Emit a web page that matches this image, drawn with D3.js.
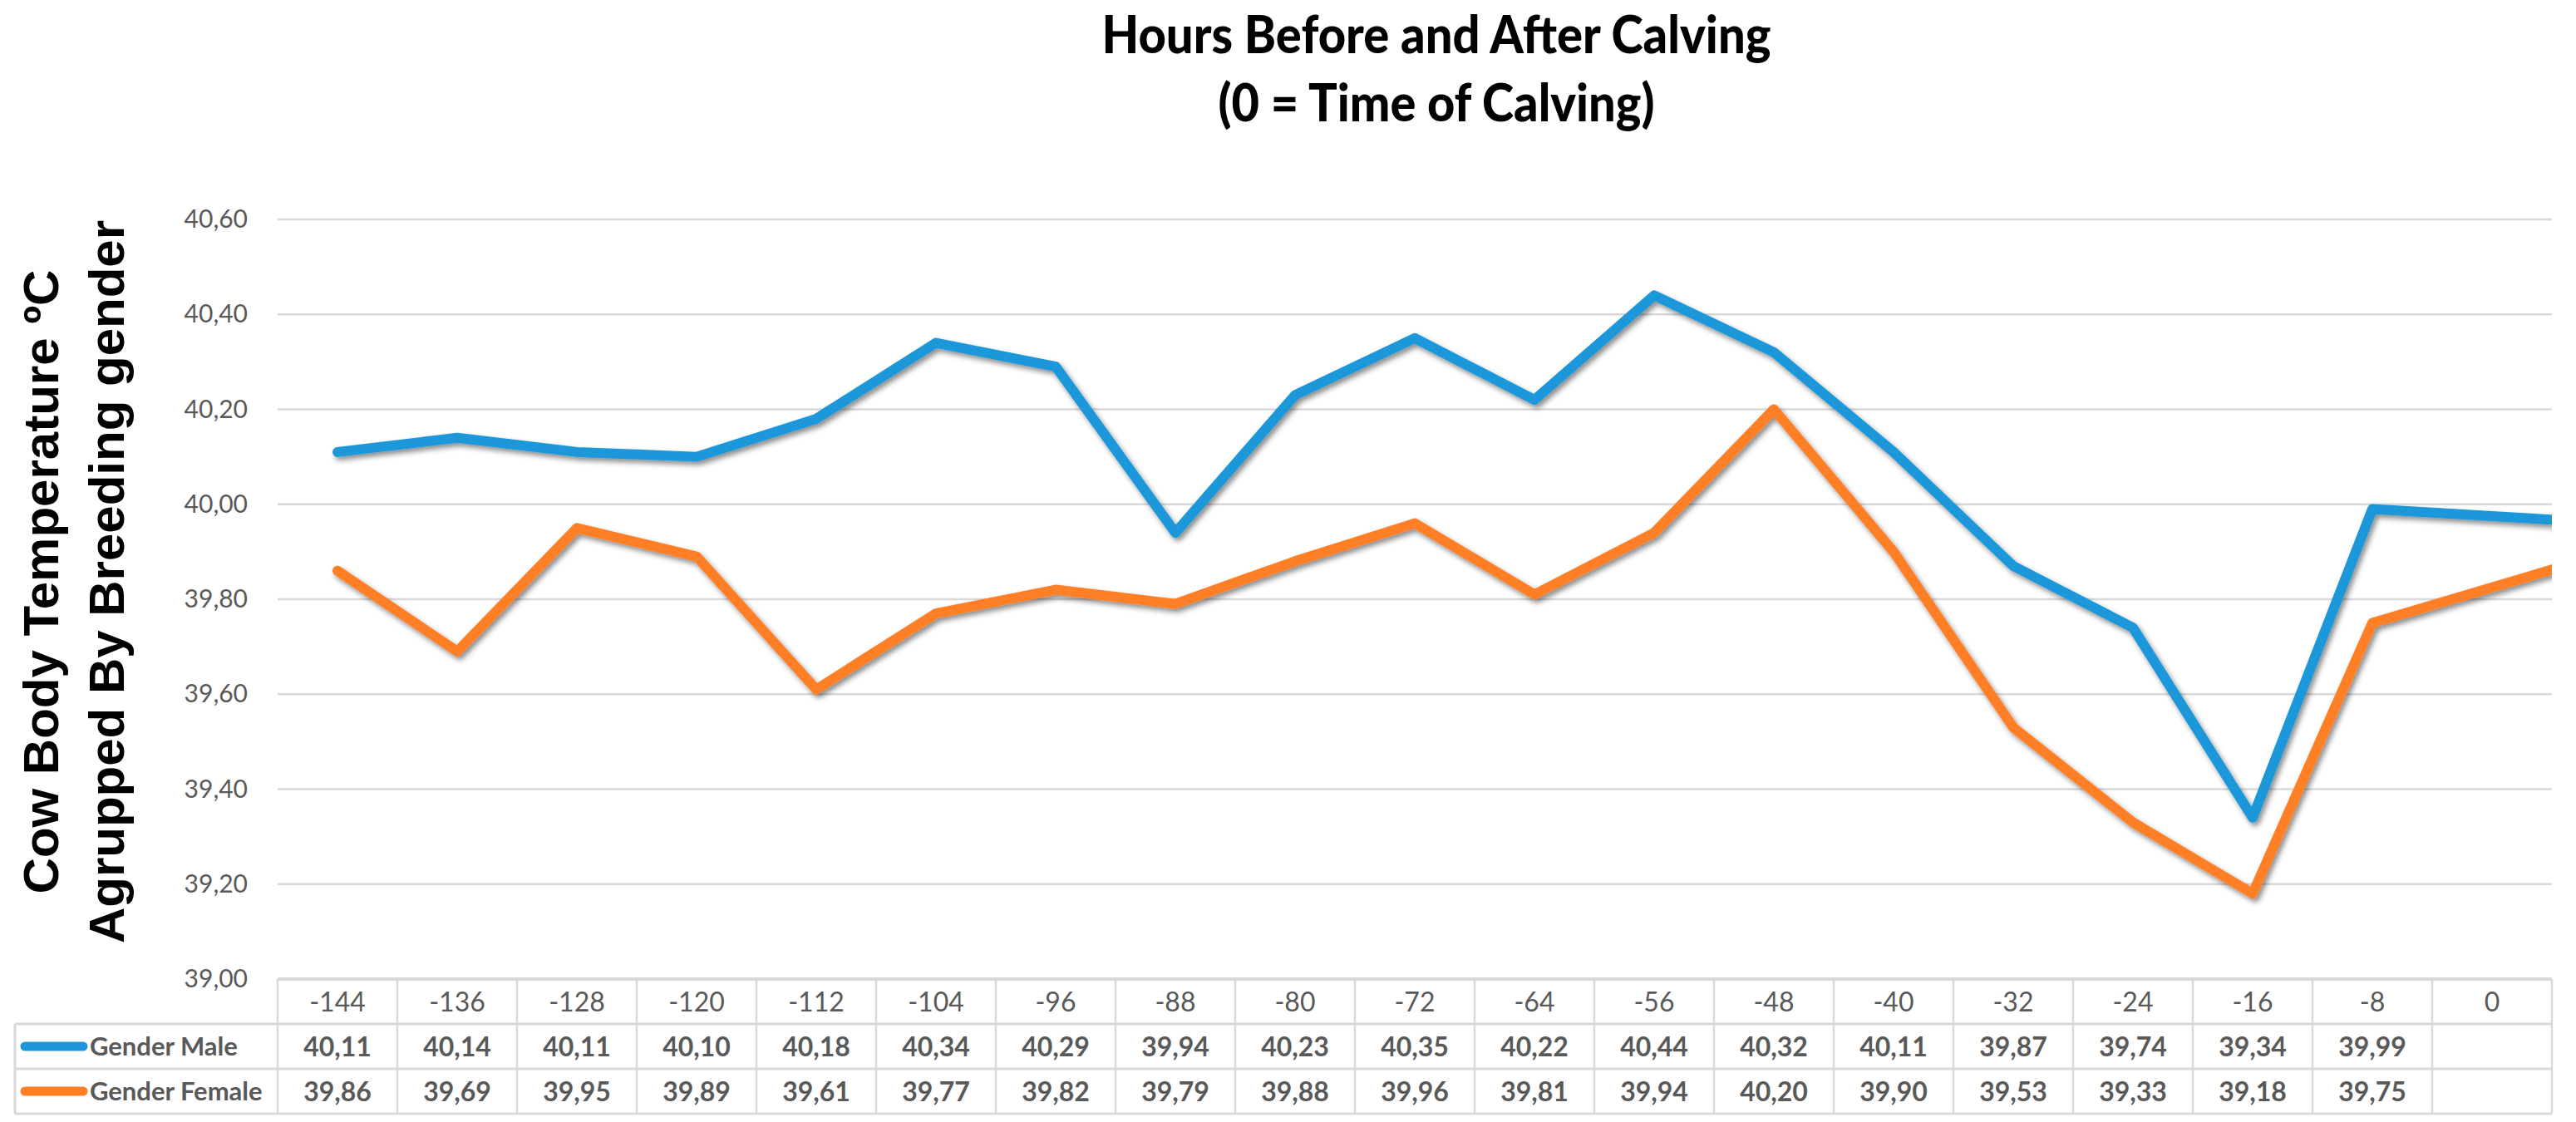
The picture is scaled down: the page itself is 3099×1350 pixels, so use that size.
<!DOCTYPE html>
<html>
<head>
<meta charset="utf-8">
<script src="https://cdn.jsdelivr.net/npm/d3@7/dist/d3.min.js"></script>
<style>
  body { margin: 0; background: #fff; }
</style>
</head>
<body>
<svg id="chart"></svg>
<script>
// hours relative to calving, one column each in the data table
var hours = ["-144", "-136", "-128", "-120", "-112", "-104", "-96", "-88", "-80", "-72",
             "-64", "-56", "-48", "-40", "-32", "-24", "-16", "-8", "0"];

var maleTemp = [40.11, 40.14, 40.11, 40.10, 40.18, 40.34, 40.29, 39.94, 40.23, 40.35,
                40.22, 40.44, 40.32, 40.11, 39.87, 39.74, 39.34, 39.99, null];
var femaleTemp = [39.86, 39.69, 39.95, 39.89, 39.61, 39.77, 39.82, 39.79, 39.88, 39.96,
                  39.81, 39.94, 40.20, 39.90, 39.53, 39.33, 39.18, 39.75, null];

// the lines run on past the last column, to a point that is off the plot
var maleNext = 39.96;
var femaleNext = 39.90;

var yTicks = [39.00, 39.20, 39.40, 39.60, 39.80, 40.00, 40.20, 40.40, 40.60];

var seriesNames = ["Gender Male", "Gender Female"];
var seriesColors = ["#1d97d9", "#ff7f27"];

var w = 3099;
var h = 1350;
// plot box (note: "top" is taken by window.top, so prefix them)
var pLeft = 334, pRight = 3070, pTop = 264, pBottom = 1178;
var rowH = 54;
var tableLeft = 18;
var grey = "#595959";
var txtFont = "Lato, 'Open Sans', sans-serif";

var svg = d3.select("#chart")
  .attr("width", w)
  .attr("height", h);

var x = d3.scaleBand().domain(hours).range([pLeft, pRight]);
var xi = d3.scaleLinear().domain([0, hours.length]).range([pLeft, pRight]);
var y = d3.scaleLinear().domain([39.0, 40.6]).range([pBottom, pTop]);

var defs = svg.append("defs");
var shadow = defs.append("filter")
  .attr("id", "shadow")
  .attr("x", "-5%").attr("y", "-20%")
  .attr("width", "110%").attr("height", "140%");
shadow.append("feDropShadow")
  .attr("dx", 3).attr("dy", 4)
  .attr("stdDeviation", 3)
  .attr("flood-color", "#000")
  .attr("flood-opacity", 0.45);

defs.append("clipPath").attr("id", "plotClip")
  .append("rect")
  .attr("x", pLeft).attr("y", pTop - 40)
  .attr("width", pRight - pLeft).attr("height", pBottom - pTop + 60);

// titles
svg.append("text")
  .text("Hours Before and After Calving")
  .attr("x", 1728).attr("y", 64)
  .attr("text-anchor", "middle")
  .style("font-family", txtFont)
  .attr("font-size", 63)
  .attr("font-weight", 900)
  .attr("textLength", 805)
  .attr("lengthAdjust", "spacingAndGlyphs")
  .attr("fill", "#000");

svg.append("text")
  .text("(0 = Time of Calving)")
  .attr("x", 1728).attr("y", 146)
  .attr("text-anchor", "middle")
  .style("font-family", txtFont)
  .attr("font-size", 63)
  .attr("font-weight", 900)
  .attr("textLength", 525)
  .attr("lengthAdjust", "spacingAndGlyphs")
  .attr("fill", "#000");

var yTitle = ["Cow Body Temperature ºC", "Agrupped By Breeding gender"];
svg.append("g")
  .selectAll("text")
  .data(yTitle)
  .enter()
  .append("text")
  .text(function(d) { return d; })
  .attr("transform", function(d, i) {
    return "translate(" + (70 + i * 79) + ",700) rotate(-90)";
  })
  .attr("text-anchor", "middle")
  .style("font-family", "'Liberation Sans', Arial, sans-serif")
  .attr("font-size", 60)
  .attr("font-weight", "bold")
  .attr("fill", "#000");

// grid lines
svg.append("g")
  .selectAll("line")
  .data(yTicks.slice(1))
  .enter()
  .append("line")
  .attr("x1", pLeft).attr("x2", pRight)
  .attr("y1", function(d) { return y(d); })
  .attr("y2", function(d) { return y(d); })
  .attr("stroke", "#d9d9d9")
  .attr("stroke-width", 2.5);

// y axis labels
var yAxis = d3.axisLeft(y)
  .tickValues(yTicks)
  .tickSize(0)
  .tickPadding(36)
  .tickFormat(function(d) { return d.toFixed(2).replace(".", ","); });

svg.append("g")
  .attr("transform", "translate(" + pLeft + ",0)")
  .call(yAxis)
  .call(function(g) { g.select(".domain").remove(); })
  .selectAll("text")
  .style("font-family", txtFont)
  .attr("font-size", 30)
  .attr("fill", grey);

// lines
var line = d3.line()
  .x(function(d) { return xi(d.i + 0.5); })
  .y(function(d) { return y(d.v); });

var series = [
  { name: seriesNames[0], values: maleTemp, next: maleNext, color: seriesColors[0] },
  { name: seriesNames[1], values: femaleTemp, next: femaleNext, color: seriesColors[1] }
];

series.forEach(function(s) {
  var pts = [];
  s.values.forEach(function(v, i) { if (v != null) pts.push({ i: i, v: v }); });
  pts.push({ i: hours.length, v: s.next });
  s.points = pts;
});

svg.append("g")
  .attr("clip-path", "url(#plotClip)")
  .selectAll("path")
  .data(series)
  .enter()
  .append("path")
  .attr("d", function(d) { return line(d.points); })
  .attr("fill", "none")
  .attr("stroke", function(d) { return d.color; })
  .attr("stroke-width", 12)
  .attr("stroke-linejoin", "round")
  .attr("stroke-linecap", "round")
  .attr("filter", "url(#shadow)");

// data table
var table = svg.append("g").style("font-family", txtFont);
var bw = x.bandwidth();
var lineCol = "#d9d9d9";

// horizontal rules
table.append("line")
  .attr("x1", pLeft).attr("x2", pRight)
  .attr("y1", pBottom).attr("y2", pBottom)
  .attr("stroke", lineCol).attr("stroke-width", 4);
[1, 2, 3].forEach(function(r) {
  table.append("line")
    .attr("x1", tableLeft).attr("x2", pRight)
    .attr("y1", pBottom + r * rowH).attr("y2", pBottom + r * rowH)
    .attr("stroke", lineCol).attr("stroke-width", 3);
});

// vertical rules
table.selectAll(".vcol")
  .data(d3.range(hours.length + 1))
  .enter()
  .append("line")
  .attr("class", "vcol")
  .attr("x1", function(d) { return xi(d); })
  .attr("x2", function(d) { return xi(d); })
  .attr("y1", pBottom)
  .attr("y2", pBottom + 3 * rowH)
  .attr("stroke", lineCol).attr("stroke-width", 2.5);
table.append("line")
  .attr("x1", tableLeft).attr("x2", tableLeft)
  .attr("y1", pBottom + rowH).attr("y2", pBottom + 3 * rowH)
  .attr("stroke", lineCol).attr("stroke-width", 3);

// header row
table.selectAll(".hdr")
  .data(hours)
  .enter()
  .append("text")
  .attr("class", "hdr")
  .text(function(d) { return d; })
  .attr("x", function(d) { return x(d) + bw / 2; })
  .attr("y", pBottom + rowH / 2)
  .attr("dy", "0.36em")
  .attr("text-anchor", "middle")
  .attr("font-size", 32)
  .attr("fill", grey);

// value rows with legend keys
series.forEach(function(s, r) {
  var cy = pBottom + (r + 1.5) * rowH;

  table.append("line")
    .attr("x1", 30).attr("x2", 100)
    .attr("y1", cy).attr("y2", cy)
    .attr("stroke", s.color)
    .attr("stroke-width", 11)
    .attr("stroke-linecap", "round");

  table.append("text")
    .text(s.name)
    .attr("x", 108)
    .attr("y", cy)
    .attr("dy", "0.36em")
    .attr("font-size", 31)
    .attr("font-weight", "bold")
    .attr("fill", grey);

  table.selectAll(".val" + r)
    .data(s.values.map(function(v, i) { return { h: hours[i], v: v }; })
      .filter(function(d) { return d.v != null; }))
    .enter()
    .append("text")
    .attr("class", "val" + r)
    .text(function(d) { return d.v.toFixed(2).replace(".", ","); })
    .attr("x", function(d) { return x(d.h) + bw / 2; })
    .attr("y", cy)
    .attr("dy", "0.36em")
    .attr("text-anchor", "middle")
    .attr("font-size", 32)
    .attr("font-weight", "bold")
    .attr("fill", grey);
});
</script>
</body>
</html>
